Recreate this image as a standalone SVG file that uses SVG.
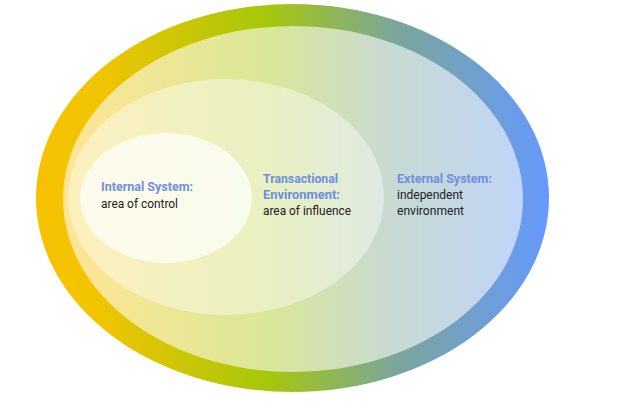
<svg xmlns="http://www.w3.org/2000/svg" width="640" height="416" viewBox="0 0 640 416">
<defs>
<linearGradient id="ring" gradientUnits="userSpaceOnUse" x1="36" y1="0" x2="550" y2="0">
<stop offset="0" stop-color="#F7C200"/>
<stop offset="0.12" stop-color="#F2C400"/>
<stop offset="0.45" stop-color="#A6C70A"/>
<stop offset="0.7" stop-color="#7BA69A"/>
<stop offset="1" stop-color="#6699FF"/>
</linearGradient>
<style>
.lab{font-family:Roboto,"Open Sans","Liberation Sans",sans-serif;font-size:13.5px}
.h{fill:#6F8FE0;font-weight:bold}
.b{fill:#222222}
</style>
</defs>
<rect width="640" height="416" fill="#FFFFFF"/>
<g id="external">
<ellipse cx="292.5" cy="198" rx="256.5" ry="194" fill="url(#ring)"/>
<ellipse cx="293" cy="199" rx="230" ry="173" fill="#FFFFFF" fill-opacity="0.58"/>
<text class="lab h" x="397" y="183" textLength="95" lengthAdjust="spacingAndGlyphs">External System:</text>
<text class="lab b" x="397" y="199" textLength="66" lengthAdjust="spacingAndGlyphs">independent</text>
<text class="lab b" x="397" y="215" textLength="67" lengthAdjust="spacingAndGlyphs">environment</text>
</g>
<g id="transactional">
<ellipse cx="226" cy="197" rx="158" ry="118" fill="#FFFFFF" fill-opacity="0.4"/>
<text class="lab h" x="263" y="183" textLength="75" lengthAdjust="spacingAndGlyphs">Transactional</text>
<text class="lab h" x="263" y="199" textLength="77" lengthAdjust="spacingAndGlyphs">Environment:</text>
<text class="lab b" x="263" y="215" textLength="88" lengthAdjust="spacingAndGlyphs">area of influence</text>
</g>
<g id="internal">
<ellipse cx="166" cy="198" rx="86" ry="65" fill="#FFFFFF" fill-opacity="0.7"/>
<text class="lab h" x="101" y="191" textLength="92" lengthAdjust="spacingAndGlyphs">Internal System:</text>
<text class="lab b" x="101" y="208" textLength="77" lengthAdjust="spacingAndGlyphs">area of control</text>
</g>
<g id="connectors"/>
</svg>
